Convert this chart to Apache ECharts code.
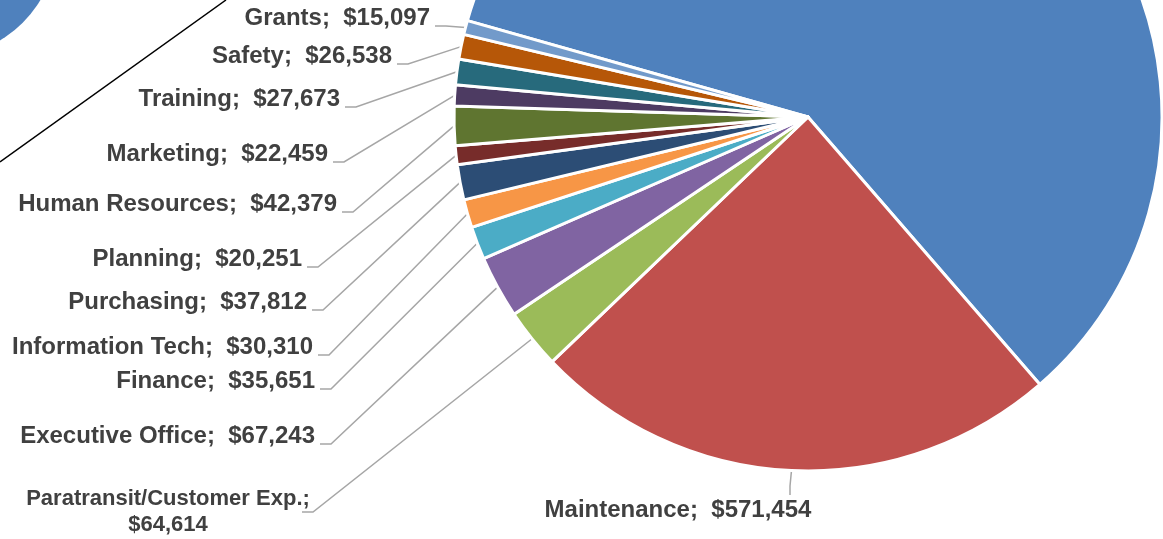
<!DOCTYPE html>
<html>
<head>
<meta charset="utf-8">
<title>Budget by Department</title>
<script src="https://cdn.jsdelivr.net/npm/echarts@6/dist/echarts.min.js"></script>
<style>
  html, body { margin: 0; padding: 0; background: #ffffff; }
  #chart { width: 1163px; height: 539px; }
</style>
</head>
<body>
<div id="chart"></div>
<script>
// Department budgets (USD), in slice order, clockwise
const categories = [
  'Operations', 'Maintenance', 'Paratransit/Customer Exp.', 'Executive Office',
  'Finance', 'Information Tech', 'Purchasing', 'Planning', 'Human Resources',
  'Marketing', 'Training', 'Safety', 'Grants'
];
const amounts = [
  1397500, 571454, 64614, 67243, 35651, 30310, 37812, 20251, 42379,
  22459, 27673, 26538, 15097
];
const sliceColors = [
  '#4F81BD', '#C0504D', '#9BBB59', '#8064A2', '#4BACC6', '#F79646', '#2C4D75',
  '#772C2A', '#5F7530', '#4D3B62', '#276A7C', '#B65708', '#729ACA'
];

// Label placement (anchor point of each label, px) and leader-line tails
const labelSpots = [
  null,
  { x: 678, y: 510, align: 'center', tail: [[790, 486], [790, 495]] },
  { x: 168, y: 512, align: 'center', tail: [[313, 512], [302, 512]], fontSize: 22 },
  { x: 315, y: 436, align: 'right' },
  { x: 315, y: 381, align: 'right' },
  { x: 313, y: 347, align: 'right' },
  { x: 307, y: 302, align: 'right' },
  { x: 302, y: 259, align: 'right' },
  { x: 337, y: 204, align: 'right' },
  { x: 328, y: 154, align: 'right' },
  { x: 340, y: 99,  align: 'right' },
  { x: 392, y: 56,  align: 'right' },
  { x: 430, y: 18,  align: 'right' }
];

function money(v) {
  return '$' + v.toLocaleString('en-US');
}

const pieData = categories.map(function (name, i) {
  const item = { name: name, value: amounts[i], itemStyle: { color: sliceColors[i] } };
  if (i === 0) {
    item.label = { show: false };
    item.labelLine = { show: false };
  } else if (labelSpots[i] && labelSpots[i].fontSize) {
    item.label = { fontSize: labelSpots[i].fontSize };
  }
  return item;
});

const chart = echarts.init(document.getElementById('chart'), null, { renderer: 'canvas' });

chart.setOption({
  animation: false,
  backgroundColor: '#ffffff',
  graphic: [
    {
      type: 'circle',
      shape: { cx: -60, cy: -60, r: 117 },
      style: { fill: '#4F81BD' },
      silent: true
    },
    {
      type: 'line',
      shape: { x1: 0, y1: 162, x2: 226, y2: 0 },
      style: { stroke: '#000000', lineWidth: 1.5 },
      silent: true
    }
  ],
  series: [
    {
      type: 'pie',
      center: [808, 117],
      radius: 354,
      startAngle: 164.2,
      clockwise: true,
      avoidLabelOverlap: false,
      itemStyle: { borderColor: '#ffffff', borderWidth: 3 },
      emphasis: { disabled: true },
      label: {
        show: true,
        position: 'outside',
        color: '#404040',
        fontFamily: '"Liberation Sans", Arial, sans-serif',
        fontWeight: 'bold',
        fontSize: 24,
        lineHeight: 26,
        formatter: function (p) {
          if (p.name.length > 20) {
            return p.name + ';\n' + money(p.value);
          }
          return p.name + ';  ' + money(p.value);
        }
      },
      labelLine: {
        show: true,
        length: 20,
        length2: 10,
        lineStyle: { color: '#A6A6A6', width: 1.5 }
      },
      labelLayout: function (params) {
        const spot = labelSpots[params.dataIndex];
        if (!spot) { return {}; }
        const pts = params.labelLinePoints;
        const start = pts ? pts[0] : [spot.x, spot.y];
        const tail = spot.tail || [[spot.x + 16, spot.y + 8], [spot.x + 5, spot.y + 8]];
        return {
          x: spot.x,
          y: spot.y,
          align: spot.align,
          verticalAlign: 'middle',
          labelLinePoints: [start, tail[0], tail[1]]
        };
      },
      data: pieData
    }
  ]
});
</script>
</body>
</html>
